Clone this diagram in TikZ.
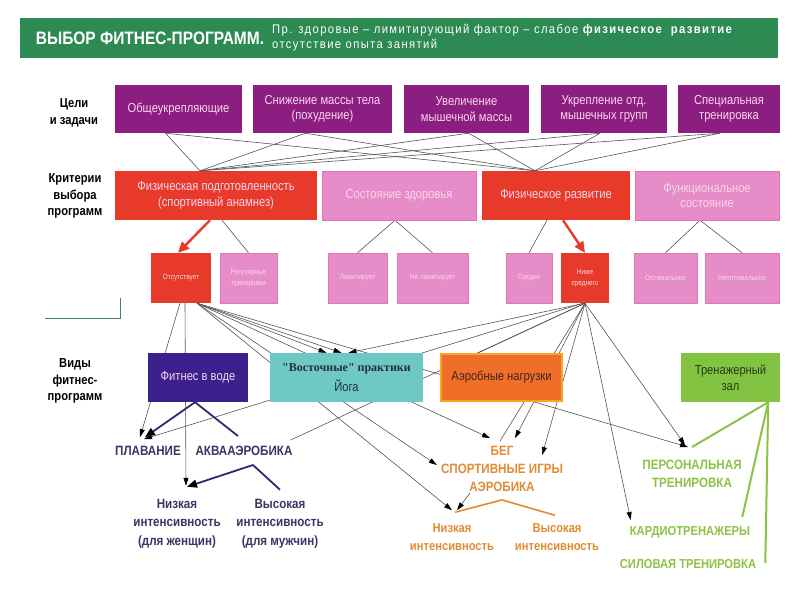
\documentclass[tikz,border=0pt]{standalone}
\usepackage{fontspec}
\setmainfont{Liberation Sans}[FakeStretch=0.86]
\newfontfamily\timesb{Liberation Serif}
\newfontfamily\notefont{Liberation Sans}[FakeStretch=0.9,LetterSpace=11]
\usetikzlibrary{positioning,calc,arrows.meta}

\definecolor{hdrgreen}{RGB}{44,138,82}
\definecolor{goalpurple}{RGB}{140,30,130}
\definecolor{critred}{RGB}{232,58,42}
\definecolor{critpink}{RGB}{230,140,200}
\definecolor{boxtext}{RGB}{248,215,236}
\definecolor{waterblue}{RGB}{60,32,140}
\definecolor{yogateal}{RGB}{110,200,195}
\definecolor{yogatext}{RGB}{40,45,60}
\definecolor{aeroorange}{RGB}{240,110,40}
\definecolor{aeroborder}{RGB}{250,165,40}
\definecolor{aerotext}{RGB}{60,40,30}
\definecolor{gymgreen}{RGB}{130,195,65}
\definecolor{gymtext}{RGB}{40,60,30}
\definecolor{navytext}{RGB}{60,52,100}
\definecolor{navyline}{RGB}{50,40,110}
\definecolor{orangetext}{RGB}{225,140,50}
\definecolor{greentext}{RGB}{140,195,70}
\definecolor{linkgray}{RGB}{85,85,85}
\definecolor{cornerteal}{RGB}{70,120,110}

\pgfdeclarelayer{back}
\pgfdeclarelayer{bg}
\pgfsetlayers{back,bg,main}

\tikzset{
  box/.style={inner sep=2pt, align=center, text=boxtext, font=\fontsize{13}{15.5}\selectfont},
  goal/.style={box, fill=goalpurple, minimum height=48pt},
  crit/.style={box, minimum height=49pt},
  subbox/.style={box, minimum height=50pt, font=\fontsize{7.5}{11}\selectfont},
  pinkbox/.style={fill=critpink, draw=critpink!85!purple, line width=0.5pt},
  kind/.style={box, minimum height=49pt},
  rowlabel/.style={align=center, font=\bfseries\fontsize{13}{16.5}\selectfont},
  navylbl/.style={align=center, inner sep=1pt, text=navytext, font=\bfseries\fontsize{13.5}{18.5}\selectfont},
  orangelbl/.style={align=center, inner sep=1pt, text=orangetext, font=\bfseries\fontsize{13.5}{18}\selectfont},
  greenlbl/.style={align=center, inner sep=1pt, text=greentext, font=\bfseries\fontsize{13.5}{18}\selectfont},
  link/.style={draw=linkgray, line width=0.6pt},
  arr/.style={link, -{Triangle[length=8pt,width=5pt,color=black]}},
  redarr/.style={draw=critred, line width=2.4pt, -{Triangle[length=11pt,width=10pt]}},
  navyarr/.style={draw=navyline, line width=1.8pt},
  orangeline/.style={draw=orangetext, line width=1.6pt},
  greenline/.style={draw=greentext, line width=2pt}
}

\begin{document}
\begin{tikzpicture}[x=1pt,y=-1pt]
    \begin{pgfonlayer}{back}
        \fill[white] (0,0) rectangle (800,600);
    \end{pgfonlayer}
    \useasboundingbox (0,0) rectangle (800,600);

    % Header bar
    \fill[hdrgreen] (20,18) rectangle (778,58);
    \node[text=white, font=\bfseries\fontsize{18}{20}\selectfont] (title) at (150,38) {ВЫБОР ФИТНЕС-ПРОГРАММ.};
    \node[anchor=west, align=left, inner sep=0pt, text=white, font=\notefont\fontsize{12.5}{15}\selectfont] (note) at (272,38)
        {Пр. здоровые – лимитирующий фактор – слабое {\bfseries физическое \ развитие}\\отсутствие опыта занятий};

    % Row labels
    \node[rowlabel] (goallbl) at (74,113) {Цели\\и задачи};
    \node[rowlabel] (critlbl) at (75,196) {Критерии\\выбора\\программ};
    \node[rowlabel] (kindlbl) at (75,381) {Виды\\фитнес-\\программ};

    % Goals
    \node[goal, minimum width=127pt] (g1) at (178.5,109) {Общеукрепляющие};
    \node[goal, minimum width=139pt] (g2) at (322.5,109) {Снижение массы тела\\(похудение)};
    \node[goal, minimum width=125pt] (g3) at (466.5,109) {Увеличение\\мышечной массы};
    \node[goal, minimum width=126pt] (g4) at (604,109) {Укрепление отд.\\мышечных групп};
    \node[goal, minimum width=102pt] (g5) at (729,109) {Специальная\\тренировка};

    % Criteria
    \node[crit, fill=critred, minimum width=202pt] (fizp) at (216,195.5) {Физическая подготовленность\\(спортивный анамнез)};
    \node[crit, pinkbox, minimum width=154pt] (zdor) at (399,195.5) {Состояние здоровья};
    \node[crit, fill=critred, minimum width=148pt] (fizr) at (556,195.5) {Физическое развитие};
    \node[crit, pinkbox, minimum width=144pt] (func) at (707,195.5) {Функциональное\\состояние};

    % Criteria values
    \node[subbox, fill=critred, minimum width=60pt] (ots) at (181,278) {Отсутствует};
    \node[subbox, pinkbox, minimum width=57pt] (reg) at (248.5,278) {Регулярные\\тренировки};
    \node[subbox, pinkbox, minimum width=59pt] (lim) at (357.5,278) {Лимитирует};
    \node[subbox, pinkbox, minimum width=71pt] (nlim) at (432.5,278) {Не лимитирует};
    \node[subbox, pinkbox, minimum width=46pt] (sred) at (529,278) {Средне};
    \node[subbox, fill=critred, minimum width=48pt] (nizh) at (585,278) {Ниже\\среднего};
    \node[subbox, pinkbox, minimum width=63pt] (opt) at (665.5,278) {Оптимальное};
    \node[subbox, pinkbox, minimum width=74pt] (nopt) at (742,278) {Неоптимальное};

    % Kinds of programs
    \node[kind, fill=waterblue, minimum width=100pt] (voda) at (198,377.5) {Фитнес в воде};
    \node[kind, fill=yogateal, text=yogatext, minimum width=153pt] (yoga) at (346.5,377.5)
        {{\timesb\bfseries\fontsize{12}{14}\selectfont "Восточные" практики}\\[5pt]Йога};
    \node[kind, fill=aeroorange, draw=aeroborder, line width=2pt, text=aerotext, minimum width=121pt, minimum height=47pt] (aero) at (501.5,377.5) {Аэробные нагрузки};
    \node[kind, fill=gymgreen, text=gymtext, minimum width=99pt] (trenz) at (730.5,377.5) {Тренажерный\\зал};

    % Outcomes
    \node[navylbl] (plav) at (148,451) {ПЛАВАНИЕ};
    \node[navylbl] (akva) at (244,451) {АКВААЭРОБИКА};
    \node[navylbl] (nizw) at (177,523.5) {Низкая\\интенсивность\\(для женщин)};
    \node[navylbl] (vism) at (280,523.5) {Высокая\\интенсивность\\(для мужчин)};
    \node[orangelbl] (beg) at (502,469) {БЕГ\\СПОРТИВНЫЕ ИГРЫ\\АЭРОБИКА};
    \node[orangelbl, font=\bfseries\fontsize{13}{18}\selectfont] (onz) at (452,537) {Низкая\\интенсивность};
    \node[orangelbl, font=\bfseries\fontsize{13}{18}\selectfont] (ovs) at (557,537) {Высокая\\интенсивность};
    \node[greenlbl] (pers) at (692,474) {ПЕРСОНАЛЬНАЯ\\ТРЕНИРОВКА};
    \node[greenlbl, font=\bfseries\fontsize{13}{18}\selectfont] (kard) at (690,532) {КАРДИОТРЕНАЖЕРЫ};
    \node[greenlbl, font=\bfseries\fontsize{13}{18}\selectfont] (sil) at (688,564) {СИЛОВАЯ ТРЕНИРОВКА};

    % corner mark
    \draw[cornerteal, line width=0.8pt] (45,318) -- (120,318) -- (120,298);

    \begin{pgfonlayer}{bg}
        % goals to criteria
        \foreach \g/\dx in {g1/-13,g2/-17,g3/2,g4/-4,g5/-9}{
            \draw[link] ($(\g.south)+(\dx,0)$) -- ($(fizp.north)+(-16,0)$);
            \draw[link] ($(\g.south)+(\dx,0)$) -- ($(fizr.north)+(-21,0)$);
        }
        % criteria to values
        \draw[link] ($(fizp.south)+(6,0)$) -- (reg.north);
        \draw[link] ($(zdor.south)+(-4,0)$) -- (lim.north);
        \draw[link] ($(zdor.south)+(-4,0)$) -- (nlim.north);
        \draw[link] ($(fizr.south)+(-9,0)$) -- (sred.north);
        \draw[link] ($(func.south)+(-7,0)$) -- (opt.north);
        \draw[link] ($(func.south)+(-7,0)$) -- (nopt.north);

        % from "no experience"
        \draw[arr] ($(ots.south)+(-1,0)$) -- ($(plav.north)+(-8,-8)$);
        \draw[arr] ($(ots.south)+(4,0)$) -- ($(nizw.north)+(9,-12)$);
        \draw[arr] ($(ots.south)+(16,0)$) -- ($(yoga.north)+(-20,0)$);
        \draw[arr] ($(ots.south)+(16,0)$) -- ($(yoga.north)+(-5,0)$);
        \draw[arr] ($(ots.south)+(16,0)$) -- ($(beg.west)+(-3,-4)$);
        \draw[arr] ($(ots.south)+(16,0)$) -- ($(beg.north)+(-12,-7)$);
        \draw[arr] ($(ots.south)+(16,0)$) -- ($(onz.north)+(0,-12)$);
        \draw[arr] ($(ots.south)+(16,0)$) -- ($(pers.north)+(-4,-12)$);

        % from "below average"
        \draw[arr] ($(nizh.south)+(-2,0)$) -- ($(plav.north)+(-4,-6)$);
        \draw[link] (nizh.south) -- ($(akva.north east)+(-3,-5)$);
        \draw[arr] (nizh.south) -- ($(yoga.north)+(2,0)$);
        \draw[link] (nizh.south) -- ($(aero.north)+(-24,0)$);
        \draw[arr] (nizh.south) -- ($(beg.north)+(13,-7)$);
        \draw[link] (nizh.south) -- ($(beg.north)+(-2,-4)$);
        \draw[arr] (nizh.south) -- ($(beg.east)+(-22,-14)$);
        \draw[arr] (nizh.south) -- ($(kard.west)+(2,-12)$);
        \draw[arr] (nizh.south) -- ($(pers.north)+(-7,-14)$);
        \draw[arr] ($(beg.south)+(-32,0)$) -- ($(onz.north)+(5,-12)$);
    \end{pgfonlayer}

    % red arrows
    \draw[redarr] ($(fizp.south)+(-6,0)$) -- ($(ots.north)+(-3,0)$);
    \draw[redarr] ($(fizr.south)+(7,0)$) -- (nizh.north);

    % water fitness
    \draw[navyarr, -{Triangle[length=10pt,width=8pt,color=black]}] ($(voda.south)+(-3,0)$) -- ($(plav.north)+(-3,-8)$);
    \draw[navyarr] ($(voda.south)+(-3,0)$) -- ($(akva.north)+(-6,-9)$);
    \draw[navyarr, -{Triangle[length=10pt,width=8pt,color=black]}] ($(akva.south)+(9,8)$) -- ($(nizw.north)+(10,-11)$);
    \draw[navyarr] ($(akva.south)+(9,8)$) -- ($(vism.north)+(0,-8)$);

    % aerobic intensity
    \draw[orangeline] ($(onz.north)+(3,-10)$) -- ($(beg.south)+(0,7)$) -- ($(ovs.north)+(-2,-7)$);

    % gym
    \draw[greenline] ($(trenz.south east)+(-12,0)$) -- ($(pers.north)+(0,-12)$);
    \draw[greenline] ($(trenz.south east)+(-12,0)$) -- ($(kard.east)+(-9,-15)$);
    \draw[greenline] ($(trenz.south east)+(-12,0)$) -- ($(sil.east)+(8,-1)$);
\end{tikzpicture}
\end{document}
